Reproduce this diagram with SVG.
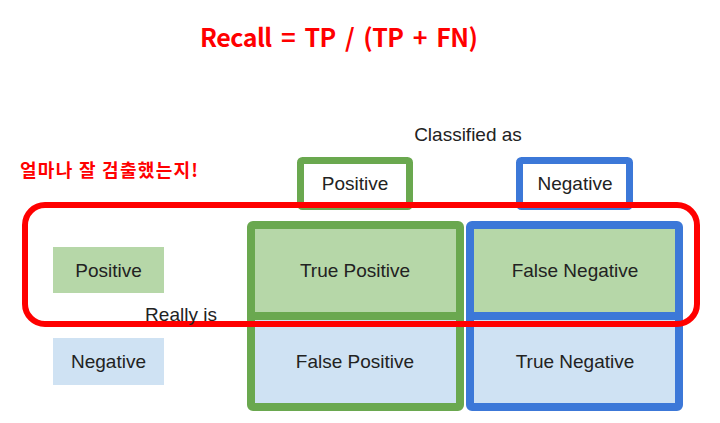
<svg xmlns="http://www.w3.org/2000/svg" width="720" height="423" viewBox="0 0 720 423">
<style>
.lbl{font-family:"Liberation Sans",Arial,sans-serif;font-size:19px;fill:#222;text-anchor:middle;dominant-baseline:central}
.red{font-family:"Noto Sans CJK KR","Liberation Sans",sans-serif;font-weight:bold;fill:#ff0000}
.gs{fill:none;stroke:#6aa84f;stroke-width:8}
.bs{fill:none;stroke:#3c78d8;stroke-width:8}
.gf{fill:#b6d7a8}
.bf{fill:#cfe2f3}
</style>
<rect width="720" height="423" fill="#fff"/>
<g id="title"><text class="red" x="200" y="47" font-size="25" word-spacing="4" textLength="278" lengthAdjust="spacing">Recall = TP / (TP + FN)</text></g>
<g id="classified-as"><text class="lbl" x="468" y="134">Classified as</text></g>
<g id="korean-note"><text class="red" x="20" y="177" font-size="18" textLength="178" lengthAdjust="spacing">얼마나 잘 검출했는지!</text></g>
<g id="col-positive">
<rect x="300.5" y="160.5" width="109" height="46" rx="2" fill="#fff" stroke="#6aa84f" stroke-width="7"/>
<text class="lbl" x="355" y="183">Positive</text>
</g>
<g id="col-negative">
<rect x="519.5" y="160.5" width="110" height="46" rx="2" fill="#fff" stroke="#3c78d8" stroke-width="7"/>
<text class="lbl" x="575" y="183">Negative</text>
</g>
<g id="row-positive">
<rect class="gf" x="53" y="247" width="111" height="46"/>
<text class="lbl" x="108.5" y="270">Positive</text>
</g>
<g id="row-negative">
<rect class="bf" x="53" y="338" width="111" height="47"/>
<text class="lbl" x="108.5" y="361">Negative</text>
</g>
<g id="true-positive">
<rect class="gf" x="251" y="225" width="209" height="91"/>
<text class="lbl" x="355" y="270">True Positive</text>
</g>
<g id="false-positive">
<rect class="bf" x="251" y="316" width="209" height="91"/>
<text class="lbl" x="355" y="361">False Positive</text>
</g>
<g id="false-negative">
<rect class="gf" x="470" y="225" width="209" height="91"/>
<text class="lbl" x="575" y="270">False Negative</text>
</g>
<g id="true-negative">
<rect class="bf" x="470" y="316" width="209" height="91"/>
<text class="lbl" x="575" y="361">True Negative</text>
</g>
<g id="column-borders">
<rect class="gs" x="251" y="225" width="209" height="182" rx="2"/>
<line class="gs" x1="251" y1="316" x2="460" y2="316"/>
<rect class="bs" x="470" y="225" width="209" height="182" rx="2"/>
<line class="bs" x1="470" y1="316" x2="679" y2="316"/>
</g>
<g id="recall-highlight">
<rect x="25" y="205" width="672" height="119" rx="20" fill="none" stroke="#ff0000" stroke-width="6"/>
</g>
<g id="really-is"><text class="lbl" x="181" y="314">Really is</text></g>
</svg>
